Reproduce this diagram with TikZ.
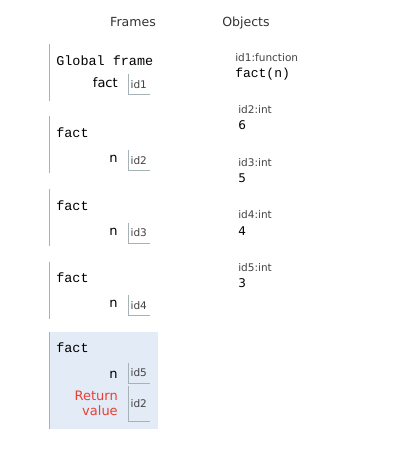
\documentclass[tikz,border=0pt]{standalone}
\usepackage{fontspec}
\usepackage{xcolor}
\usepackage{tikz}
\newfontfamily\vsans{DejaVu Sans}
\newfontfamily\cmono{Liberation Mono}
\definecolor{framebar}{HTML}{A6B3B6}
\definecolor{hilite}{HTML}{E2EBF6}
\definecolor{retred}{HTML}{E93F34}
\definecolor{hdrgrey}{HTML}{333333}
\definecolor{idgrey}{HTML}{444444}

\begin{document}
\begin{tikzpicture}[x=0.75pt,y=0.75pt,yscale=-1,xscale=1,
  hdr/.style={font=\vsans\fontsize{9.4}{11}\selectfont, text=hdrgrey, inner sep=0pt, anchor=base},
  ftitle/.style={font=\cmono\fontsize{10.1}{12}\selectfont, inner sep=0pt, anchor=base west},
  varname/.style={font=\vsans\fontsize{9.75}{11}\selectfont, inner sep=0pt, anchor=base east},
  idbox/.style={minimum width=15.75pt, minimum height=15pt, inner sep=0pt, anchor=north west, font=\vsans\fontsize{7.9}{9}\selectfont, text=idgrey},
  barline/.style={draw=framebar, line width=0.75pt},
  objlbl/.style={font=\vsans\fontsize{7.9}{9}\selectfont, text=idgrey, inner sep=0pt, anchor=base west},
  objnum/.style={font=\vsans\fontsize{9}{11}\selectfont, inner sep=0pt, anchor=base west},
  objcode/.style={font=\cmono\fontsize{9.75}{11}\selectfont, inner sep=0pt, anchor=base west}]
        \useasboundingbox (0,0) rectangle (400,459);

        % headers
        \node[hdr] (hframes) at (133,27) {Frames};
        \node[hdr] (hobjects) at (246,27) {Objects};

        % global frame
        \draw[barline] (49,44) -- (49,101);
        \node[ftitle] (gtitle) at (56,66) {Global frame};
        \node[varname] (gfact) at (118,88) {fact};
        \node[idbox] (gbox) at (128,74) {id1};
        \draw[barline] (gbox.north west) |- (gbox.south east);

        % fact frames
        \draw[barline] (49,116.5) -- (49,173.5);
        \node[ftitle] (f1title) at (56,137.5) {fact};
        \node[varname] (f1n) at (118,162.5) {n};
        \node[idbox] (f1box) at (128,150) {id2};
        \draw[barline] (f1box.north west) |- (f1box.south east);

        \draw[barline] (49,189) -- (49,246);
        \node[ftitle] (f2title) at (56,210) {fact};
        \node[varname] (f2n) at (118,235) {n};
        \node[idbox] (f2box) at (128,222.5) {id3};
        \draw[barline] (f2box.north west) |- (f2box.south east);

        \draw[barline] (49,261.5) -- (49,318.5);
        \node[ftitle] (f3title) at (56,282.5) {fact};
        \node[varname] (f3n) at (118,307.5) {n};
        \node[idbox] (f3box) at (128,295) {id4};
        \draw[barline] (f3box.north west) |- (f3box.south east);

        % current frame
        \fill[hilite] (49,332) rectangle (158,429);
        \draw[barline] (49,332) -- (49,429);
        \node[ftitle] (f4title) at (56,352) {fact};
        \node[varname] (f4n) at (118,378) {n};
        \node[idbox] (f4box) at (128,362.5) {id5};
        \draw[barline] (f4box.north west) |- (f4box.south east);
        \node[varname, anchor=east, align=right, text=retred] (f4ret) at (118,403.5) {Return\\value};
        \node[idbox, minimum height=26.25pt] (f4rbox) at (128,386) {id2};
        \draw[barline] (f4rbox.north west) |- (f4rbox.south east);

        % objects
        \node[objlbl] (o1lbl) at (235,62) {id1:function};
        \node[objcode] (o1val) at (235,78) {fact(n)};
        \node[objlbl] (o2lbl) at (238,114) {id2:int};
        \node[objnum] (o2val) at (238,130) {6};
        \node[objlbl] (o3lbl) at (238,166.5) {id3:int};
        \node[objnum] (o3val) at (238,182.5) {5};
        \node[objlbl] (o4lbl) at (238,219) {id4:int};
        \node[objnum] (o4val) at (238,235) {4};
        \node[objlbl] (o5lbl) at (238,271.5) {id5:int};
        \node[objnum] (o5val) at (238,287.5) {3};
    \end{tikzpicture}
\end{document}
